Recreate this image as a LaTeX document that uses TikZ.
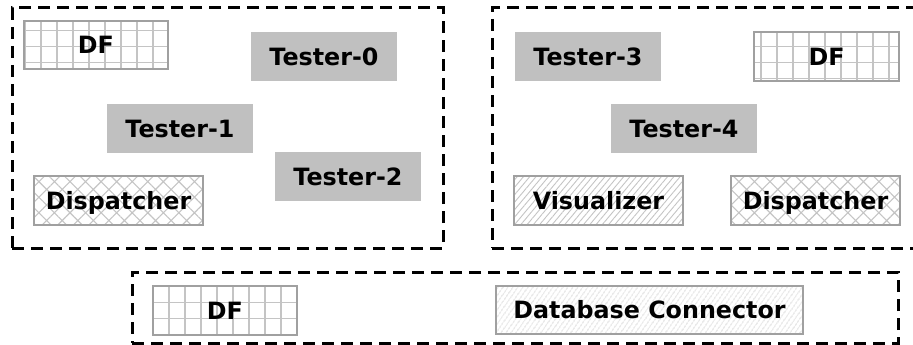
\documentclass[tikz,border=0pt]{standalone}
\usepackage{fontspec}
\setmainfont{DejaVu Sans}
\usetikzlibrary{patterns.meta}
\definecolor{testgray}{HTML}{C0C0C0}
\definecolor{edgegray}{HTML}{A0A0A0}
\definecolor{patgray}{HTML}{C4C4C4}
\tikzset{
  lbl/.style={inner sep=0pt, text height=17.3pt, text depth=0pt,
    font=\fontsize{23.8}{28}\selectfont\bfseries, align=center},
  tester/.style={lbl, fill=testgray, minimum width=146pt, minimum height=49pt},
  dfbox/.style={lbl, draw=edgegray, line width=2.2pt,
    minimum width=144pt, minimum height=48pt},
  gridline/.style={draw=patgray, line width=1.7pt},
  dispbox/.style={lbl, draw=edgegray, line width=2.2pt,
    pattern={Hatch[angle=45,distance=11pt,line width=1.1pt]}, pattern color=patgray,
    minimum width=169pt, minimum height=49pt},
  hatchbox/.style={lbl, draw=edgegray, line width=2.2pt,
    pattern={Lines[angle=50,distance=4.8pt,line width=0.9pt]}, pattern color=patgray,
    minimum width=169pt, minimum height=49pt},
  group/.style={draw=black, line width=3pt, dash pattern=on 12pt off 7pt, inner sep=0pt}
}
% grid cells behind a DF box: x1,y1,x2,y2 (picture units)
\newcommand{\dfgrid}[4]{%
  \begin{scope}
    \clip (#1,#2) rectangle (#3,#4);
    \foreach \gx in {9,25,...,905} \draw[gridline] (\gx,0) -- (\gx,345);
    \foreach \gy in {14.5,30.5,...,345} \draw[gridline] (0,\gy) -- (913,\gy);
  \end{scope}}
\begin{document}
\begin{tikzpicture}[x=1pt,y=-1pt]
\useasboundingbox (0,0) rectangle (913,345);
\clip (0,0) rectangle (913,345);
% groups
\node[group, minimum width=431pt, minimum height=240pt] (ga) at (227.5,128) {};
\node[group, minimum width=435pt, minimum height=240pt] (gb) at (709.5,128) {};
\node[group, minimum width=766pt, minimum height=71pt] (gc) at (515,307.5) {};
% grids of the DF boxes
\dfgrid{24}{21}{168}{69}
\dfgrid{754}{32}{899}{81}
\dfgrid{153}{286}{297}{335}
% left group
\node[dfbox] (df1) at (96,45) {DF};
\node[tester] (t0) at (324,56.5) {Tester-0};
\node[tester] (t1) at (180,128.5) {Tester-1};
\node[tester] (t2) at (348,176.5) {Tester-2};
\node[dispbox] (dis1) at (118.5,200.5) {Dispatcher};
% right group
\node[tester] (t3) at (588,56.5) {Tester-3};
\node[dfbox, minimum width=145pt, minimum height=49pt] (df2) at (826.5,56.5) {DF};
\node[tester] (t4) at (684,128.5) {Tester-4};
\node[hatchbox] (vis) at (598.5,200.5) {Visualizer};
\node[dispbox] (dis2) at (815.5,200.5) {Dispatcher};
% bottom group
\node[dfbox, minimum height=49pt] (df3) at (225,310.5) {DF};
\node[hatchbox, minimum width=307pt, minimum height=48pt,
  pattern={Lines[angle=55,distance=4pt,line width=0.8pt]}] (db) at (649.5,310) {Database Connector};
\end{tikzpicture}
\end{document}
